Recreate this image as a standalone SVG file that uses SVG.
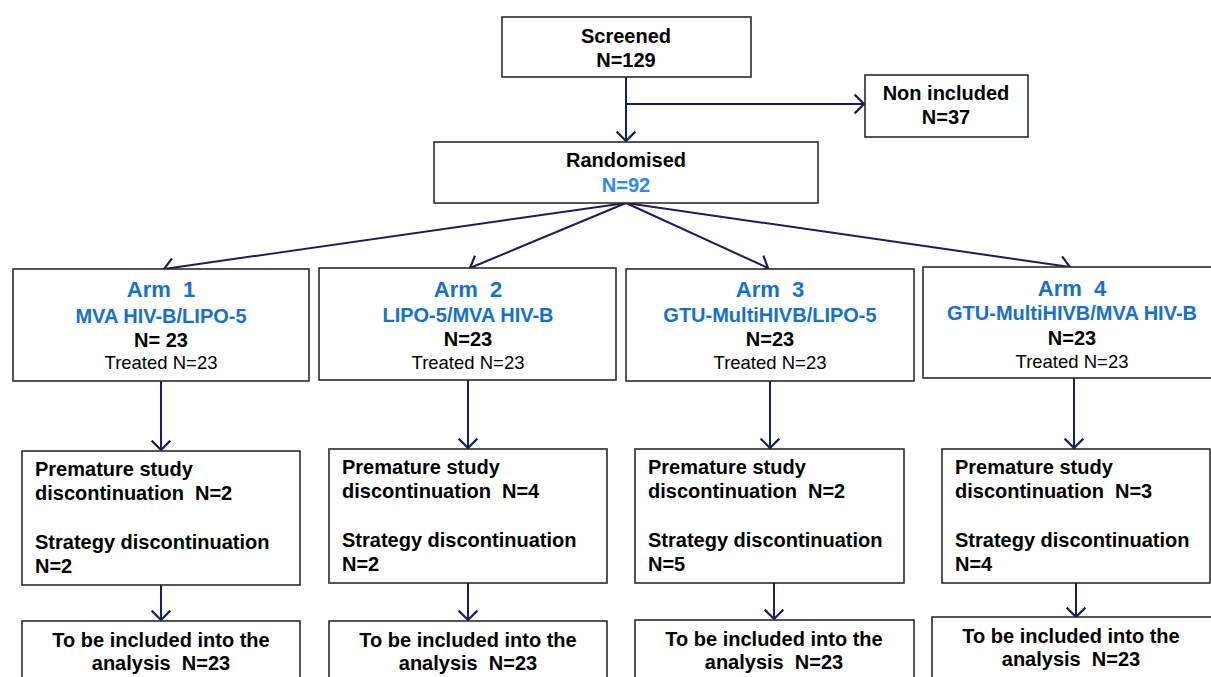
<svg xmlns="http://www.w3.org/2000/svg" width="1211" height="677" viewBox="0 0 1211 677">
<style>
.box{fill:#fff;stroke:#2b2b2b;stroke-width:1.6}
.t{font-family:"Liberation Sans",Arial,sans-serif;font-weight:bold;font-size:20px;fill:#000}
.c{text-anchor:middle}
.r{font-weight:normal;font-size:18.5px}
.blue{fill:#1570d0}
.lb{fill:#2a88f7}
.arm{font-size:22px}
.con{stroke:#1c1c60;stroke-width:2;fill:none}
</style>
<defs>
<marker id="ah" markerUnits="userSpaceOnUse" markerWidth="22" markerHeight="22" refX="10" refY="9" orient="auto" viewBox="0 0 20 18">
<path d="M1.5,0.5 L10,9 L1.5,17.5" fill="none" stroke="#1c1c60" stroke-width="2"/>
</marker>
</defs>
<rect width="1211" height="677" fill="#fff"/>
<g id="connectors">
<path class="con" d="M626,77 V141" marker-end="url(#ah)"/>
<path class="con" d="M626,104 H864" marker-end="url(#ah)"/>
<path class="con" d="M626,203 L164,269" marker-end="url(#ah)"/>
<path class="con" d="M626,203 L470,268" marker-end="url(#ah)"/>
<path class="con" d="M626,203 L768,268" marker-end="url(#ah)"/>
<path class="con" d="M626,203 L1070,267" marker-end="url(#ah)"/>
<path class="con" d="M161,381 V450" marker-end="url(#ah)"/>
<path class="con" d="M468,380 V448" marker-end="url(#ah)"/>
<path class="con" d="M770,381 V448" marker-end="url(#ah)"/>
<path class="con" d="M1074,378 V448" marker-end="url(#ah)"/>
<path class="con" d="M161,585 V620" marker-end="url(#ah)"/>
<path class="con" d="M468,583 V620" marker-end="url(#ah)"/>
<path class="con" d="M774,583 V619" marker-end="url(#ah)"/>
<path class="con" d="M1076,583 V617" marker-end="url(#ah)"/>
</g>
<g id="screened">
<rect class="box" x="502" y="17" width="249" height="60"/>
<text class="t c" x="626" y="43">Screened</text>
<text class="t c" x="626" y="67">N=129</text>
</g>
<g id="nonincluded">
<rect class="box" x="865" y="75" width="163" height="62"/>
<text class="t c" x="946" y="100">Non included</text>
<text class="t c" x="946" y="124">N=37</text>
</g>
<g id="randomised">
<rect class="box" x="434" y="142" width="384" height="61"/>
<text class="t c" x="626" y="167">Randomised</text>
<text class="t c lb" x="626" y="192">N=92</text>
</g>
<g id="arm1">
<rect class="box" x="13" y="269" width="296" height="112"/>
<text class="t c blue arm" x="161" y="297" xml:space="preserve">Arm  1</text>
<text class="t c blue" x="161" y="323">MVA HIV-B/LIPO-5</text>
<text class="t c" x="161" y="347">N= 23</text>
<text class="t c r" x="161" y="369">Treated N=23</text>
</g>
<g id="arm2">
<rect class="box" x="319" y="268" width="297" height="112"/>
<text class="t c blue arm" x="468" y="297" xml:space="preserve">Arm  2</text>
<text class="t c blue" x="468" y="322">LIPO-5/MVA HIV-B</text>
<text class="t c" x="468" y="346">N=23</text>
<text class="t c r" x="468" y="369">Treated N=23</text>
</g>
<g id="arm3">
<rect class="box" x="626" y="269" width="288" height="112"/>
<text class="t c blue arm" x="770" y="297" xml:space="preserve">Arm  3</text>
<text class="t c blue" x="770" y="322">GTU-MultiHIVB/LIPO-5</text>
<text class="t c" x="770" y="346">N=23</text>
<text class="t c r" x="770" y="369">Treated N=23</text>
</g>
<g id="arm4">
<rect class="box" x="923" y="267" width="300" height="111"/>
<text class="t c blue arm" x="1072" y="296" xml:space="preserve">Arm  4</text>
<text class="t c blue" x="1072" y="320">GTU-MultiHIVB/MVA HIV-B</text>
<text class="t c" x="1072" y="345">N=23</text>
<text class="t c r" x="1072" y="368">Treated N=23</text>
</g>
<g id="disc1">
<rect class="box" x="22" y="451" width="278" height="134"/>
<text class="t" x="35" y="476">Premature study</text>
<text class="t" x="35" y="500" xml:space="preserve">discontinuation  N=2</text>
<text class="t" x="35" y="549">Strategy discontinuation</text>
<text class="t" x="35" y="573">N=2</text>
</g>
<g id="disc2">
<rect class="box" x="329" y="449" width="278" height="134"/>
<text class="t" x="342" y="474">Premature study</text>
<text class="t" x="342" y="498" xml:space="preserve">discontinuation  N=4</text>
<text class="t" x="342" y="547">Strategy discontinuation</text>
<text class="t" x="342" y="571">N=2</text>
</g>
<g id="disc3">
<rect class="box" x="635" y="449" width="269" height="134"/>
<text class="t" x="648" y="474">Premature study</text>
<text class="t" x="648" y="498" xml:space="preserve">discontinuation  N=2</text>
<text class="t" x="648" y="547">Strategy discontinuation</text>
<text class="t" x="648" y="571">N=5</text>
</g>
<g id="disc4">
<rect class="box" x="942" y="449" width="268" height="134"/>
<text class="t" x="955" y="474">Premature study</text>
<text class="t" x="955" y="498" xml:space="preserve">discontinuation  N=3</text>
<text class="t" x="955" y="547">Strategy discontinuation</text>
<text class="t" x="955" y="571">N=4</text>
</g>
<g id="final1">
<rect class="box" x="22" y="621" width="278" height="80"/>
<text class="t c" x="161" y="647">To be included into the</text>
<text class="t c" x="161" y="670" xml:space="preserve">analysis  N=23</text>
</g>
<g id="final2">
<rect class="box" x="329" y="621" width="278" height="80"/>
<text class="t c" x="468" y="647">To be included into the</text>
<text class="t c" x="468" y="670" xml:space="preserve">analysis  N=23</text>
</g>
<g id="final3">
<rect class="box" x="635" y="620" width="279" height="80"/>
<text class="t c" x="774" y="646">To be included into the</text>
<text class="t c" x="774" y="669" xml:space="preserve">analysis  N=23</text>
</g>
<g id="final4">
<rect class="box" x="932" y="617" width="290" height="80"/>
<text class="t c" x="1071" y="643">To be included into the</text>
<text class="t c" x="1071" y="666" xml:space="preserve">analysis  N=23</text>
</g>
</svg>
